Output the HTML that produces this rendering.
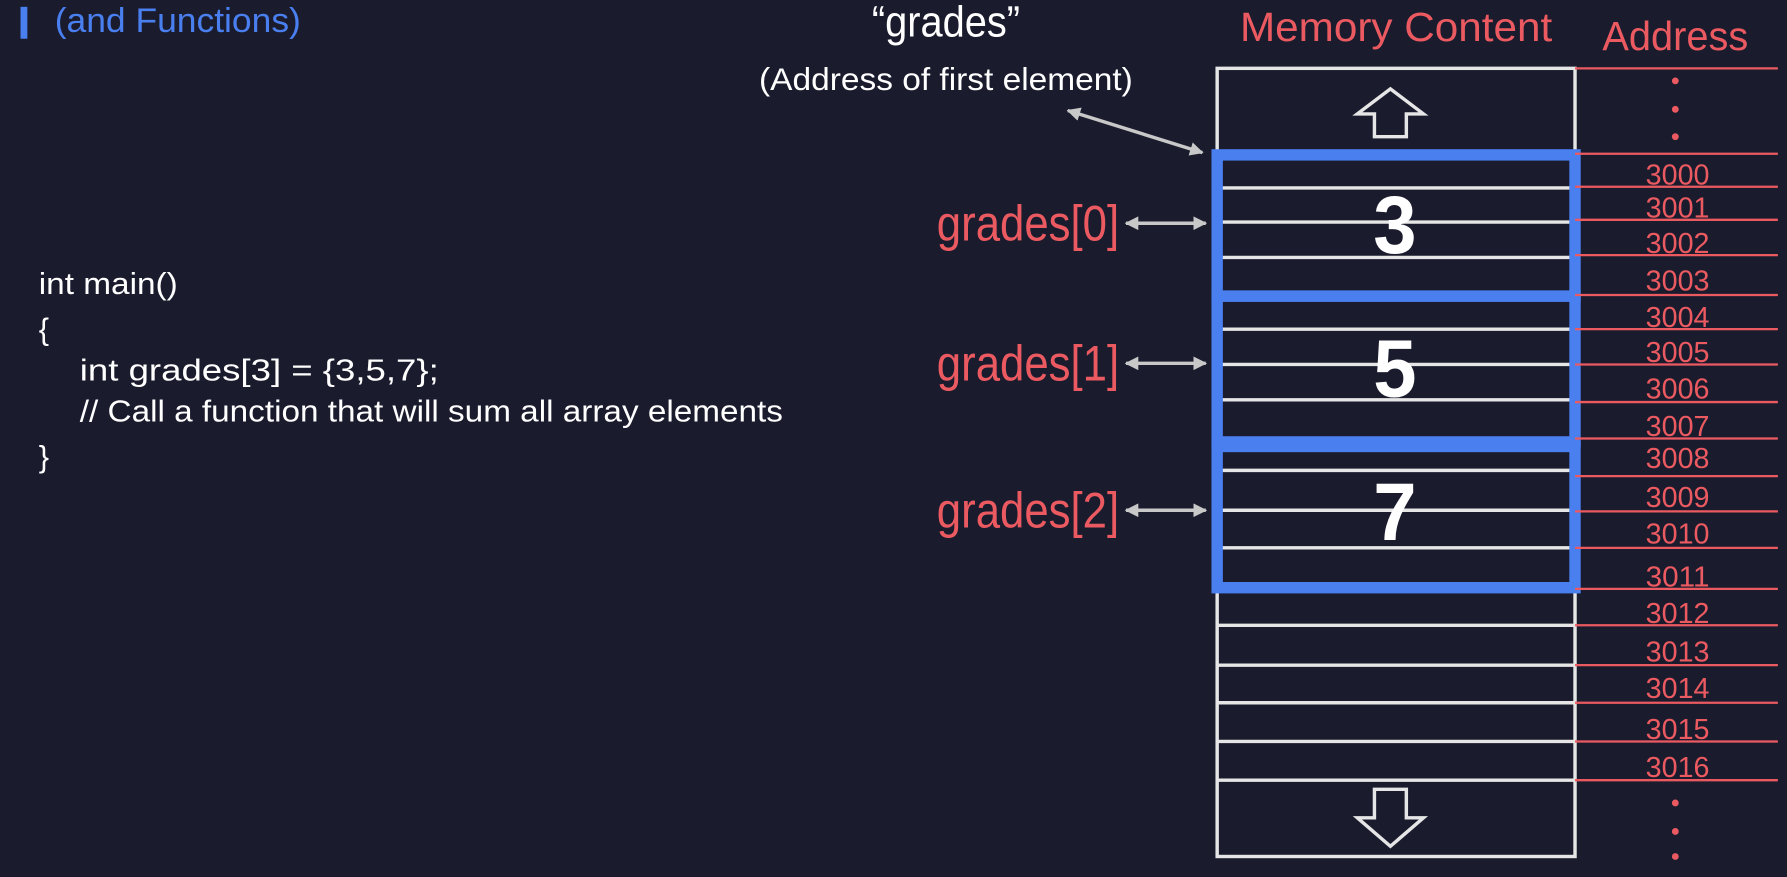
<!DOCTYPE html>
<html><head><style>
html,body{margin:0;padding:0;background:#1a1c2e;}
svg{display:block;}
text{font-family:"Liberation Sans",sans-serif;}
</style></head><body>
<svg width="1787" height="877" viewBox="0 0 1568 770" preserveAspectRatio="none" xmlns="http://www.w3.org/2000/svg">
<defs>
<marker id="ah" viewBox="0 0 10 10" refX="9" refY="5" markerWidth="4" markerHeight="4" orient="auto-start-reverse"><path d="M0,0 L10,5 L0,10 z" fill="#c8c8c8"/></marker>
</defs>
<rect width="1568" height="770" fill="#1a1c2e"/>
<rect x="18" y="6" width="6" height="28" fill="#4a7ff0"/>
<text x="48" y="28" font-size="30" fill="#4a7ff0" textLength="216" lengthAdjust="spacingAndGlyphs">(and Functions)</text>

<g fill="#ffffff" font-size="27">
<text x="34" y="258" textLength="122" lengthAdjust="spacingAndGlyphs">int main()</text>
<text x="34" y="298">{</text>
<text x="70" y="334" textLength="315" lengthAdjust="spacingAndGlyphs">int grades[3] = {3,5,7};</text>
<text x="70" y="370" textLength="617" lengthAdjust="spacingAndGlyphs">// Call a function that will sum all array elements</text>
<text x="34" y="410">}</text>
</g>

<text x="830" y="32" font-size="38" fill="#fff" text-anchor="middle" textLength="130" lengthAdjust="spacingAndGlyphs">“grades”</text>
<text x="830" y="79" font-size="28" fill="#fff" text-anchor="middle" textLength="328" lengthAdjust="spacingAndGlyphs">(Address of first element)</text>
<line x1="937" y1="97" x2="1055" y2="134" stroke="#c8c8c8" stroke-width="3" marker-start="url(#ah)" marker-end="url(#ah)"/>

<g fill="#ec5a61" font-size="44">
<text x="822" y="211" textLength="160" lengthAdjust="spacingAndGlyphs">grades[0]</text>
<text x="822" y="334" textLength="160" lengthAdjust="spacingAndGlyphs">grades[1]</text>
<text x="822" y="463" textLength="160" lengthAdjust="spacingAndGlyphs">grades[2]</text>
</g>
<g stroke="#c8c8c8" stroke-width="3">
<line x1="988" y1="196" x2="1058" y2="196" marker-start="url(#ah)" marker-end="url(#ah)"/>
<line x1="988" y1="319" x2="1058" y2="319" marker-start="url(#ah)" marker-end="url(#ah)"/>
<line x1="988" y1="448" x2="1058" y2="448" marker-start="url(#ah)" marker-end="url(#ah)"/>
</g>

<text x="1225" y="36" font-size="36" fill="#ec5a61" text-anchor="middle" textLength="274" lengthAdjust="spacingAndGlyphs">Memory Content</text>
<text x="1470" y="44" font-size="36" fill="#ec5a61" text-anchor="middle" textLength="128" lengthAdjust="spacingAndGlyphs">Address</text>

<rect x="1068" y="60" width="314" height="692" fill="none" stroke="#e6e6e6" stroke-width="3"/>
<g stroke="#e6e6e6" stroke-width="3">
<line x1="1068" y1="165" x2="1382" y2="165"/><line x1="1068" y1="195" x2="1382" y2="195"/><line x1="1068" y1="226" x2="1382" y2="226"/>
<line x1="1068" y1="289" x2="1382" y2="289"/><line x1="1068" y1="320" x2="1382" y2="320"/><line x1="1068" y1="351" x2="1382" y2="351"/>
<line x1="1068" y1="413" x2="1382" y2="413"/><line x1="1068" y1="448" x2="1382" y2="448"/><line x1="1068" y1="481" x2="1382" y2="481"/>
<line x1="1068" y1="549" x2="1382" y2="549"/><line x1="1068" y1="584" x2="1382" y2="584"/><line x1="1068" y1="617" x2="1382" y2="617"/>
<line x1="1068" y1="651" x2="1382" y2="651"/><line x1="1068" y1="685" x2="1382" y2="685"/>
</g>
<g fill="none" stroke="#4a7ff0" stroke-width="10">
<rect x="1068" y="136" width="314" height="124"/>
<rect x="1068" y="260" width="314" height="128"/>
<rect x="1068" y="392" width="314" height="124"/>
</g>
<path d="M1206,120 L1206,100 L1191,100 L1220,78 L1249,100 L1234,100 L1234,120 Z" fill="none" stroke="#e6e6e6" stroke-width="3"/>
<path d="M1206,693 L1206,718 L1191,718 L1220,743 L1249,718 L1234,718 L1234,693 Z" fill="none" stroke="#e6e6e6" stroke-width="3"/>

<g fill="#fff" font-size="72" font-weight="bold" text-anchor="middle">
<text x="1224" y="222" textLength="38" lengthAdjust="spacingAndGlyphs">3</text>
<text x="1224" y="348" textLength="38" lengthAdjust="spacingAndGlyphs">5</text>
<text x="1224" y="474" textLength="38" lengthAdjust="spacingAndGlyphs">7</text>
</g>

<g stroke="#ec5a61" stroke-width="2">
<line x1="1382" y1="60" x2="1560" y2="60"/><line x1="1382" y1="135" x2="1560" y2="135"/>
<line x1="1382" y1="164" x2="1560" y2="164"/><line x1="1382" y1="193" x2="1560" y2="193"/>
<line x1="1382" y1="224" x2="1560" y2="224"/><line x1="1382" y1="259" x2="1560" y2="259"/>
<line x1="1382" y1="289" x2="1560" y2="289"/><line x1="1382" y1="320" x2="1560" y2="320"/>
<line x1="1382" y1="353" x2="1560" y2="353"/><line x1="1382" y1="385" x2="1560" y2="385"/>
<line x1="1382" y1="418" x2="1560" y2="418"/><line x1="1382" y1="449" x2="1560" y2="449"/>
<line x1="1382" y1="481" x2="1560" y2="481"/><line x1="1382" y1="517" x2="1560" y2="517"/>
<line x1="1382" y1="549" x2="1560" y2="549"/><line x1="1382" y1="584" x2="1560" y2="584"/>
<line x1="1382" y1="617" x2="1560" y2="617"/><line x1="1382" y1="651" x2="1560" y2="651"/>
<line x1="1382" y1="685" x2="1560" y2="685"/>
</g>
<g fill="#ec5a61" font-size="25" text-anchor="middle">
<text x="1472" y="162" textLength="56" lengthAdjust="spacingAndGlyphs">3000</text><text x="1472" y="191" textLength="56" lengthAdjust="spacingAndGlyphs">3001</text><text x="1472" y="222" textLength="56" lengthAdjust="spacingAndGlyphs">3002</text>
<text x="1472" y="255" textLength="56" lengthAdjust="spacingAndGlyphs">3003</text><text x="1472" y="287" textLength="56" lengthAdjust="spacingAndGlyphs">3004</text><text x="1472" y="318" textLength="56" lengthAdjust="spacingAndGlyphs">3005</text>
<text x="1472" y="350" textLength="56" lengthAdjust="spacingAndGlyphs">3006</text><text x="1472" y="383" textLength="56" lengthAdjust="spacingAndGlyphs">3007</text><text x="1472" y="411" textLength="56" lengthAdjust="spacingAndGlyphs">3008</text>
<text x="1472" y="445" textLength="56" lengthAdjust="spacingAndGlyphs">3009</text><text x="1472" y="477" textLength="56" lengthAdjust="spacingAndGlyphs">3010</text><text x="1472" y="515" textLength="56" lengthAdjust="spacingAndGlyphs">3011</text>
<text x="1472" y="547" textLength="56" lengthAdjust="spacingAndGlyphs">3012</text><text x="1472" y="581" textLength="56" lengthAdjust="spacingAndGlyphs">3013</text><text x="1472" y="613" textLength="56" lengthAdjust="spacingAndGlyphs">3014</text>
<text x="1472" y="649" textLength="56" lengthAdjust="spacingAndGlyphs">3015</text><text x="1472" y="682" textLength="56" lengthAdjust="spacingAndGlyphs">3016</text>
</g>
<g fill="#ec5a61">
<circle cx="1470" cy="71" r="3"/><circle cx="1470" cy="96" r="3"/><circle cx="1470" cy="120" r="3"/>
<circle cx="1470" cy="705" r="3"/><circle cx="1470" cy="730" r="3"/><circle cx="1470" cy="752" r="3"/>
</g>
</svg>
</body></html>
